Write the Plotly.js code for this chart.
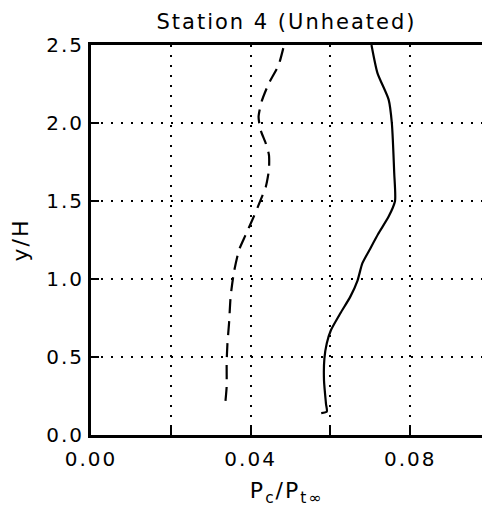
<!DOCTYPE html>
<html>
<head>
<meta charset="utf-8">
<script src="https://cdn.plot.ly/plotly-3.0.1.min.js"></script>
<style>
html, body { margin: 0; padding: 0; background: #fff; }
#chart { width: 482px; height: 507px; }
.main-svg text { letter-spacing: 2px; }
</style>
</head>
<body>
<div id="chart"></div>
<script>
// Solid curve
const solidX = [0.0703, 0.0718, 0.0746, 0.0754, 0.0760, 0.0762, 0.0746, 0.0720, 0.0698, 0.0680, 0.0668, 0.0650, 0.0625, 0.0601, 0.0591, 0.0585, 0.0584, 0.0589, 0.0591, 0.0577];
const solidY = [2.50, 2.32, 2.15, 2.00, 1.68, 1.50, 1.40, 1.29, 1.186, 1.10, 0.99, 0.887, 0.78, 0.67, 0.588, 0.49, 0.35, 0.20, 0.15, 0.14];
// Dashed curve
const dashX = [0.0482, 0.0470, 0.0445, 0.0428, 0.0420, 0.0425, 0.0438, 0.0446, 0.0446, 0.0438, 0.0425, 0.0408, 0.0387, 0.0371, 0.0358, 0.0350, 0.0346, 0.0342, 0.0340, 0.0340, 0.0336];
const dashY = [2.48, 2.37, 2.25, 2.14, 2.04, 1.955, 1.87, 1.795, 1.70, 1.59, 1.506, 1.40, 1.28, 1.186, 1.04, 0.887, 0.716, 0.588, 0.46, 0.31, 0.19];

const xTickVals = [0, 0.04, 0.08];
const xTickText = ['0.00', '0.04', '0.08'];
const yTickVals = [0, 0.5, 1.0, 1.5, 2.0, 2.5];
const yTickText = ['0.0', '0.5', '1.0', '1.5', '2.0', '2.5'];

const font = 'DejaVu Sans, Arial, sans-serif';

const traces = [
  { x: solidX, y: solidY, mode: 'lines', line: { color: '#000', width: 2.2, shape: 'spline', smoothing: 0.6 }, showlegend: false, hoverinfo: 'skip' },
  { x: dashX, y: dashY, mode: 'lines', line: { color: '#000', width: 2.2, dash: '14px,8px', shape: 'spline', smoothing: 0.6 }, showlegend: false, hoverinfo: 'skip' }
];

const gridStyle = { showgrid: true, gridcolor: '#000', gridwidth: 2, griddash: '2px,8px' };

const layout = {
  width: 482, height: 507,
  margin: { l: 91, r: 0, t: 45, b: 72 },
  paper_bgcolor: '#fff', plot_bgcolor: '#fff',
  font: { family: font, color: '#000', size: 20 },
  title: { text: 'Station 4 (Unheated)', font: { family: font, size: 21, color: '#000' }, x: 0.5, xref: 'paper', xanchor: 'center', y: 1 - 22/507, yref: 'container', yanchor: 'middle' },
  xaxis: Object.assign({
    range: [0, 0.098], tickvals: xTickVals, ticktext: xTickText,
    showline: true, linecolor: '#000', linewidth: 3, mirror: true,
    ticks: 'inside', ticklen: 8, tickwidth: 2, tickcolor: '#000',
    zeroline: false, tickfont: { size: 20 }, ticklabelstandoff: 4,
    minor: Object.assign({ dtick: 0.02, tick0: 0, ticks: 'inside', ticklen: 8, tickwidth: 2, tickcolor: '#000' }, gridStyle),
    title: { text: 'P<sub>c</sub>/P<sub>t∞</sub>', font: { size: 22 }, standoff: 14 }
  }, gridStyle),
  yaxis: Object.assign({
    range: [0, 2.5], tickvals: yTickVals, ticktext: yTickText,
    showline: true, linecolor: '#000', linewidth: 3,
    ticks: 'inside', ticklen: 8, tickwidth: 2, tickcolor: '#000',
    zeroline: false, tickfont: { size: 20 },
    title: { text: 'y/H', font: { size: 22 }, standoff: 18 }
  }, gridStyle)
};

Plotly.newPlot('chart', traces, layout, { staticPlot: true, displayModeBar: false });
</script>
</body>
</html>
